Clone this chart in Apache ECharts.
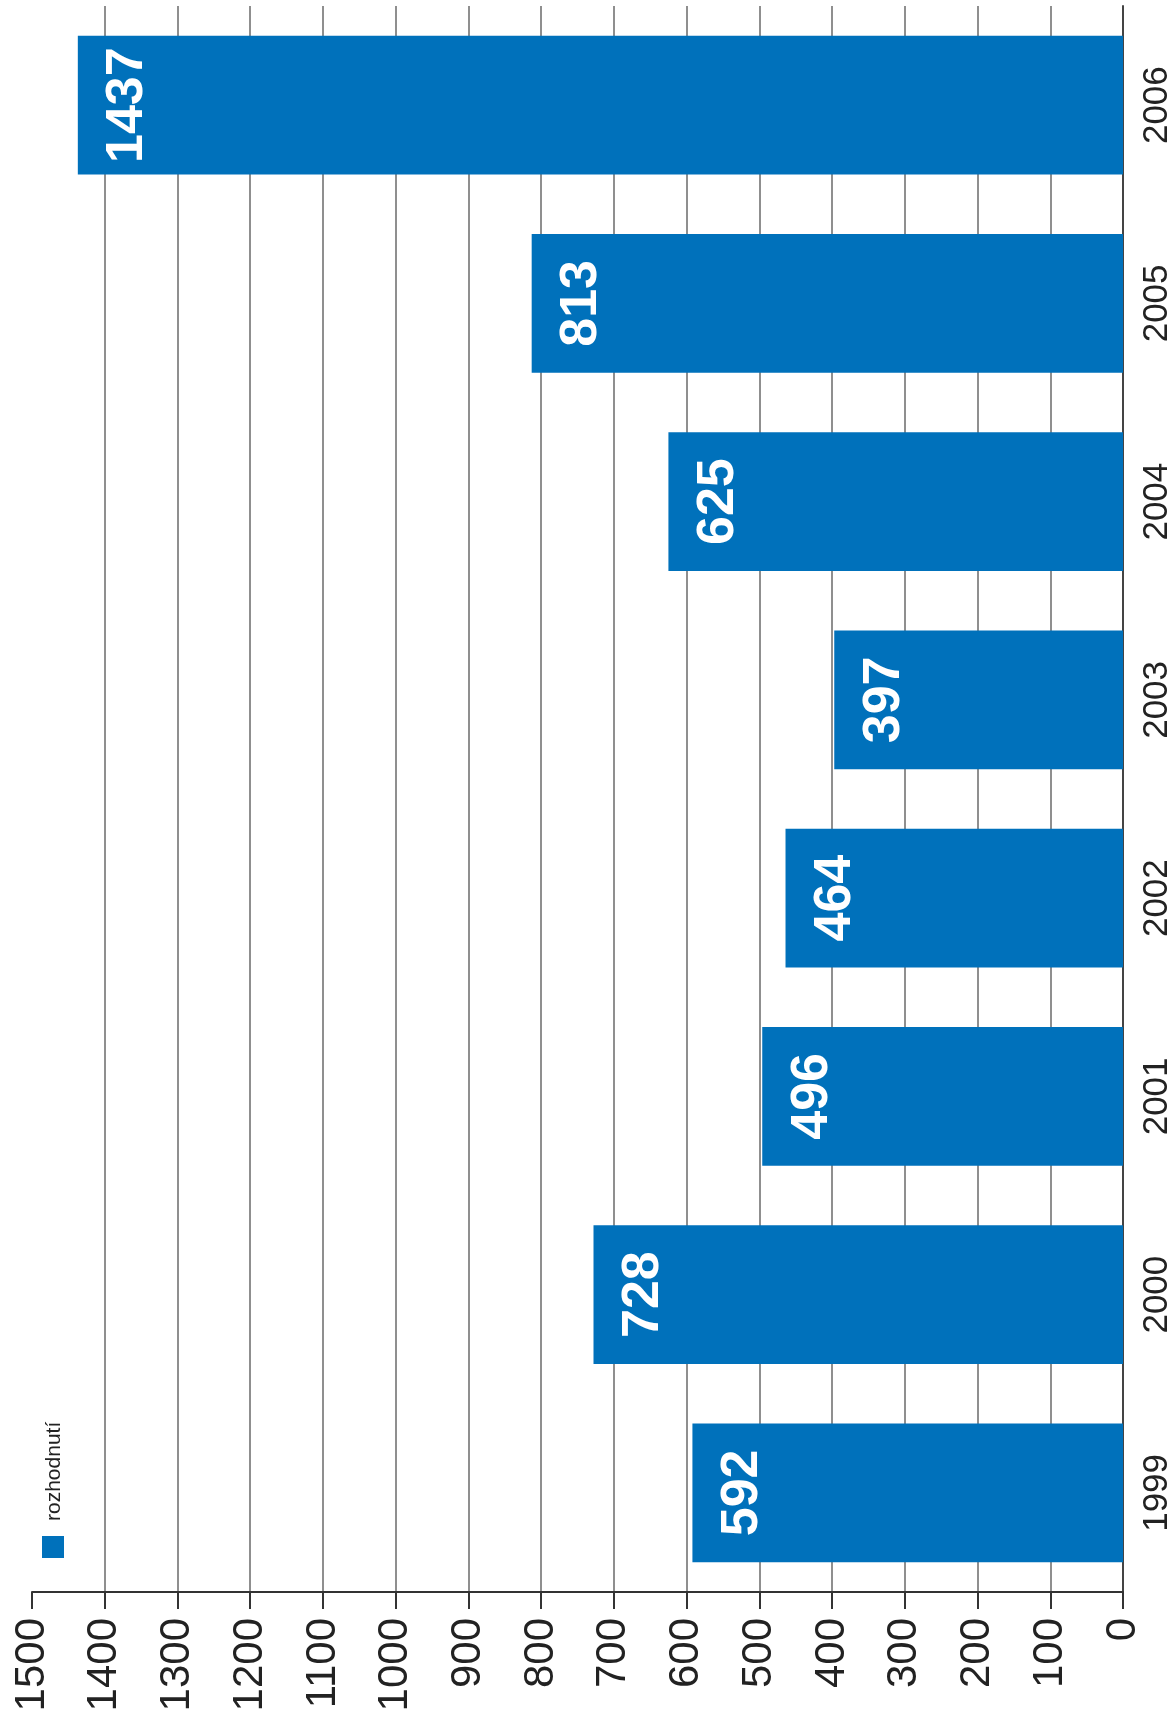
<!DOCTYPE html>
<html>
<head>
<meta charset="utf-8">
<script src="https://cdn.jsdelivr.net/npm/echarts@6/dist/echarts.min.js"></script>
<style>
html,body{margin:0;padding:0;background:#fff;}
#chart{width:1176px;height:1722px;}
</style>
</head>
<body>
<div id="chart"></div>
<script>
const categories = ['1999','2000','2001','2002','2003','2004','2005','2006'];
const values = [592, 728, 496, 464, 397, 625, 813, 1437];
const seriesName = 'rozhodnutí';
const valueMin = 0, valueMax = 1500, valueStep = 100;

const chart = echarts.init(document.getElementById('chart'));
const font = '"Liberation Sans", Arial, Helvetica, sans-serif';
chart.setOption({
  animation: false,
  backgroundColor: '#fff',
  grid: { left: 32, right: 53, top: 6, bottom: 130, containLabel: false },
  legend: {
    show: true,
    left: 42, top: 1536,
    padding: 0,
    itemWidth: 22, itemHeight: 22,
    icon: 'rect',
    formatter: () => '',
    textStyle: { fontSize: 1 },
    data: [seriesName]
  },
  graphic: [{
    type: 'text',
    x: 54, y: 1521,
    rotation: Math.PI / 2,
    style: {
      text: seriesName,
      font: '21px ' + font,
      fill: '#222',
      align: 'left',
      verticalAlign: 'middle'
    }
  }],
  xAxis: {
    type: 'value',
    inverse: true,
    position: 'bottom',
    min: valueMin, max: valueMax, interval: valueStep,
    axisLine: { show: true, lineStyle: { color: '#333', width: 2 } },
    axisTick: { show: true, length: 17, inside: false, lineStyle: { color: '#333', width: 2 } },
    axisLabel: { rotate: 90, margin: 26, fontSize: 42, fontFamily: font, color: '#222', formatter: v => String(v) },
    splitLine: { show: true, showMaxLine: false, lineStyle: { color: '#6a6a6a', width: 1.5 } }
  },
  yAxis: {
    type: 'category',
    position: 'right',
    data: categories,
    axisLine: { show: true, lineStyle: { color: '#444', width: 2 } },
    axisTick: { show: false },
    axisLabel: { rotate: 90, margin: 17, fontSize: 35, fontFamily: font, color: '#222' },
    splitLine: { show: false }
  },
  series: [{
    name: seriesName,
    type: 'bar',
    data: values,
    barWidth: '70%',
    itemStyle: { color: '#0071bb' },
    label: {
      show: true,
      position: 'insideLeft',
      distance: 24,
      rotate: 90,
      align: 'center',
      verticalAlign: 'top',
      fontSize: 52,
      fontWeight: 'bold',
      fontFamily: font,
      color: '#fff'
    }
  }]
});
</script>
</body>
</html>
